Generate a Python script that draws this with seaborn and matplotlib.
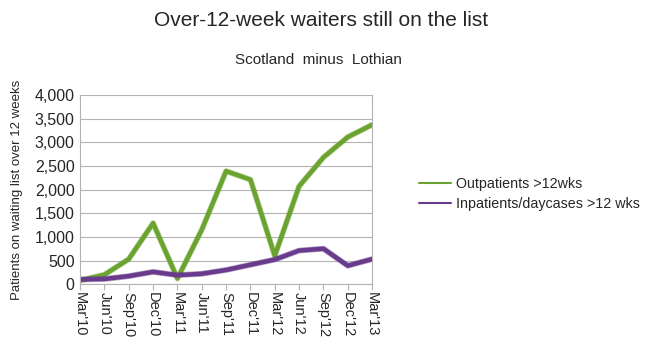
import pandas as pd
import seaborn as sns
import matplotlib.pyplot as plt
import matplotlib.ticker as mticker
import matplotlib.patheffects as pe

# data
quarters = ["Mar'10", "Jun'10", "Sep'10", "Dec'10", "Mar'11", "Jun'11", "Sep'11",
            "Dec'11", "Mar'12", "Jun'12", "Sep'12", "Dec'12", "Mar'13"]
outpatients = [80, 200, 530, 1290, 120, 1150, 2390, 2210, 600, 2070, 2680, 3110, 3370]
inpatients = [100, 110, 170, 260, 190, 220, 300, 410, 520, 710, 750, 390, 530]
series_names = ["Outpatients >12wks", "Inpatients/daycases >12 wks"]

df = pd.DataFrame({"Quarter": quarters,
                   series_names[0]: outpatients,
                   series_names[1]: inpatients})
long_df = df.melt(id_vars="Quarter", var_name="Series", value_name="Patients")
long_df["x"] = long_df.groupby("Series").cumcount()

sns.set_style("white")
plt.rcParams['font.family'] = ['Liberation Sans', 'DejaVu Sans']

fig = plt.figure(figsize=(6.46, 3.53), dpi=100)
ax = fig.add_axes([0.124, 0.195, 0.452, 0.536])

palette = {series_names[0]: "#6ba331", series_names[1]: "#693b8c"}
sns.lineplot(data=long_df, x="x", y="Patients", hue="Series", palette=palette,
             linewidth=3.2, ax=ax, legend=False)
for ln in ax.get_lines():
    ln.set_path_effects([pe.Stroke(linewidth=4.2, foreground=ln.get_color(), alpha=0.45),
                         pe.Normal()])

ax.set_xlim(0, len(quarters) - 1)
ax.set_ylim(0, 4000)
ax.set_xticks(range(len(quarters)))
ax.set_xticklabels(quarters, rotation=270, fontsize=10.5)
ax.yaxis.set_major_locator(mticker.MultipleLocator(500))
ax.yaxis.set_major_formatter(mticker.StrMethodFormatter("{x:,.0f}"))
ax.tick_params(axis="y", labelsize=11.5, length=0, pad=4)
ax.tick_params(axis="x", length=4, color="#b3b3b3", pad=2, bottom=True)
ax.grid(axis="y", color="#b3b3b3", linewidth=0.8)
for s in ax.spines.values():
    s.set_color("#b3b3b3")
    s.set_linewidth(0.8)
ax.spines["top"].set_visible(False)
ax.set_xlabel("")
ax.set_ylabel("Patients on waiting list over 12 weeks", fontsize=9.5, labelpad=8)

fig.text(0.497, 0.925, "Over-12-week waiters still on the list", ha="center", fontsize=15)
fig.text(0.493, 0.82, "Scotland  minus  Lothian", ha="center", fontsize=11)

handles = [plt.Line2D([], [], color=palette[n], linewidth=1.5) for n in series_names]
fig.legend(handles, series_names, loc="upper left", bbox_to_anchor=(0.628, 0.535),
           frameon=False, fontsize=10.3, handlelength=2.3, handletextpad=0.3,
           labelspacing=0.45)

fig.savefig("out.png", dpi=100)
